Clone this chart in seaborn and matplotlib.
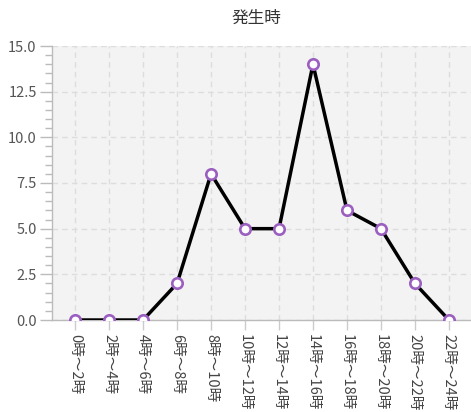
import matplotlib
matplotlib.use("Agg")
import matplotlib.pyplot as plt
import seaborn as sns
import pandas as pd
from matplotlib.ticker import MultipleLocator

categories = ["0時～2時", "2時～4時", "4時～6時", "6時～8時", "8時～10時", "10時～12時",
              "12時～14時", "14時～16時", "16時～18時", "18時～20時", "20時～22時", "22時～24時"]
values = [0, 0, 0, 2, 8, 5, 5, 14, 6, 5, 2, 0]
title = "発生時"

sns.set_style("white")
plt.rcParams['font.family'] = ['Noto Sans CJK JP', 'DejaVu Sans']

df = pd.DataFrame({"cat": categories, "val": values})

fig = plt.figure(figsize=(4.71, 4.12), dpi=100)
ax = fig.add_axes([52/471, 92/412, 1 - 52/471, (320-46)/412])
ax.set_facecolor("#f3f3f3")

sns.lineplot(data=df, x="cat", y="val", sort=False, ax=ax, color="black", linewidth=2.5,
             marker="o", markersize=7.5, markerfacecolor="white", markeredgecolor="#9b5fc0",
             markeredgewidth=1.9, zorder=3)

ax.set_xlim(-0.68, 11.65)
ax.set_ylim(0, 15)
ax.yaxis.set_major_locator(MultipleLocator(2.5))
ax.yaxis.set_minor_locator(MultipleLocator(0.5))
ax.yaxis.set_major_formatter(matplotlib.ticker.FormatStrFormatter("%.1f"))
ax.set_xticks(range(len(categories)))
ax.set_xticklabels(categories, rotation=270, fontsize=10.5, color="#444444")
ax.tick_params(axis="y", which="major", length=9, width=1, color="#bbbbbb", labelsize=10.5,
               labelcolor="#555555", left=True, pad=2)
ax.tick_params(axis="y", which="minor", length=5, width=1, color="#bbbbbb", left=True)
ax.tick_params(axis="x", length=7, width=1, color="#cccccc", bottom=True, pad=3)
ax.grid(True, which="major", color="#dddddd", linestyle=(0, (4, 3)), linewidth=1)
ax.set_axisbelow(True)
for s in ["top", "right"]:
    ax.spines[s].set_visible(False)
for s in ["left", "bottom"]:
    ax.spines[s].set_color("#bbbbbb")
    ax.spines[s].set_linewidth(1)
ax.set_xlabel("")
ax.set_ylabel("")
fig.text(0.545, 1 - 18/412, title, ha="center", va="center", fontsize=12, color="#333333")

fig.savefig("out.png", dpi=100)
